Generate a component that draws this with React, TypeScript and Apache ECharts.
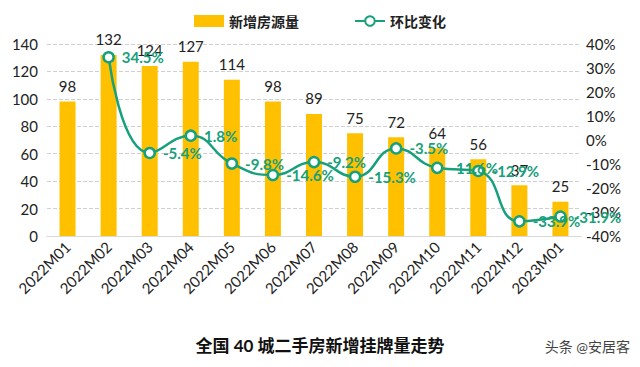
import React, { useEffect, useRef } from "react";
import * as echarts from "echarts";

const categories = ["2022M01","2022M02","2022M03","2022M04","2022M05","2022M06","2022M07","2022M08","2022M09","2022M10","2022M11","2022M12","2023M01"];
const newListings = [98, 132, 124, 127, 114, 98, 89, 75, 72, 64, 56, 37, 25];
const momChange: (number | null)[] = [null, 34.5, -5.4, 1.8, -9.8, -14.6, -9.2, -15.3, -3.5, -11.6, -12.9, -33.9, -31.9];

const FONT = "Lato, 'Noto Sans CJK SC', sans-serif";

export default function App() {
  const ref = useRef<HTMLDivElement>(null);
  useEffect(() => {
    const chart = echarts.init(ref.current!, null, { renderer: "svg" });
    chart.setOption({
      animation: false,
      textStyle: { fontFamily: FONT },
      legend: {
        top: 9,
        left: "center",
        itemGap: 55,
        itemWidth: 30,
        itemHeight: 12,
        textStyle: { fontSize: 14, fontWeight: "bold", color: "#222", fontFamily: FONT },
        data: [
          { name: "新增房源量", icon: "rect" },
          { name: "环比变化" },
        ],
      },
      grid: { left: 47, right: 59, top: 44, bottom: 131 },
      xAxis: {
        type: "category",
        data: categories,
        axisLine: { lineStyle: { color: "#d9d9d9" } },
        axisTick: { show: false },
        axisLabel: { rotate: 45, fontSize: 15, color: "#222", margin: 8, fontFamily: FONT },
      },
      yAxis: [
        {
          type: "value",
          min: 0,
          max: 140,
          interval: 20,
          axisLine: { show: false },
          axisTick: { show: false },
          axisLabel: { fontSize: 15, color: "#222", margin: 9, fontFamily: FONT },
          splitLine: { lineStyle: { type: "dashed", color: "#d0d0d0" } },
        },
        {
          type: "value",
          min: -40,
          max: 40,
          interval: 10,
          axisLine: { show: false },
          axisTick: { show: false },
          axisLabel: { fontSize: 15, color: "#222", margin: 5, formatter: "{value}%", fontFamily: FONT },
          splitLine: { show: false },
        },
      ],
      series: [
        {
          name: "新增房源量",
          type: "bar",
          data: newListings,
          barWidth: 16,
          itemStyle: { color: "#FFC000" },
          label: { show: true, position: "top", fontSize: 15, color: "#222", distance: 8, fontFamily: FONT },
        },
        {
          name: "环比变化",
          type: "line",
          yAxisIndex: 1,
          data: momChange,
          smooth: true,
          symbol: "circle",
          symbolSize: 10,
          lineStyle: { color: "#17a07c", width: 2.5 },
          itemStyle: { color: "#ffffff", borderColor: "#17a07c", borderWidth: 2.5 },
          label: {
            show: true,
            position: "right",
            distance: 7,
            formatter: "{c}%",
            fontSize: 15,
            fontWeight: "bold",
            color: "#17a07c",
            fontFamily: FONT,
          },
        },
      ],
      graphic: [
        {
          type: "text",
          left: "center",
          top: 337,
          style: { text: "全国 40 城二手房新增挂牌量走势", fontSize: 17, fontWeight: "bold", fill: "#111", fontFamily: FONT },
        },
        {
          type: "text",
          right: 10,
          top: 339,
          style: { text: "头条 @安居客", fontSize: 14, fill: "#444", fontFamily: FONT },
        },
      ],
    });
    return () => chart.dispose();
  }, []);
  return <div ref={ref} style={{ width: 640, height: 367, position: "absolute", left: 0, top: 0 }} />;
}
